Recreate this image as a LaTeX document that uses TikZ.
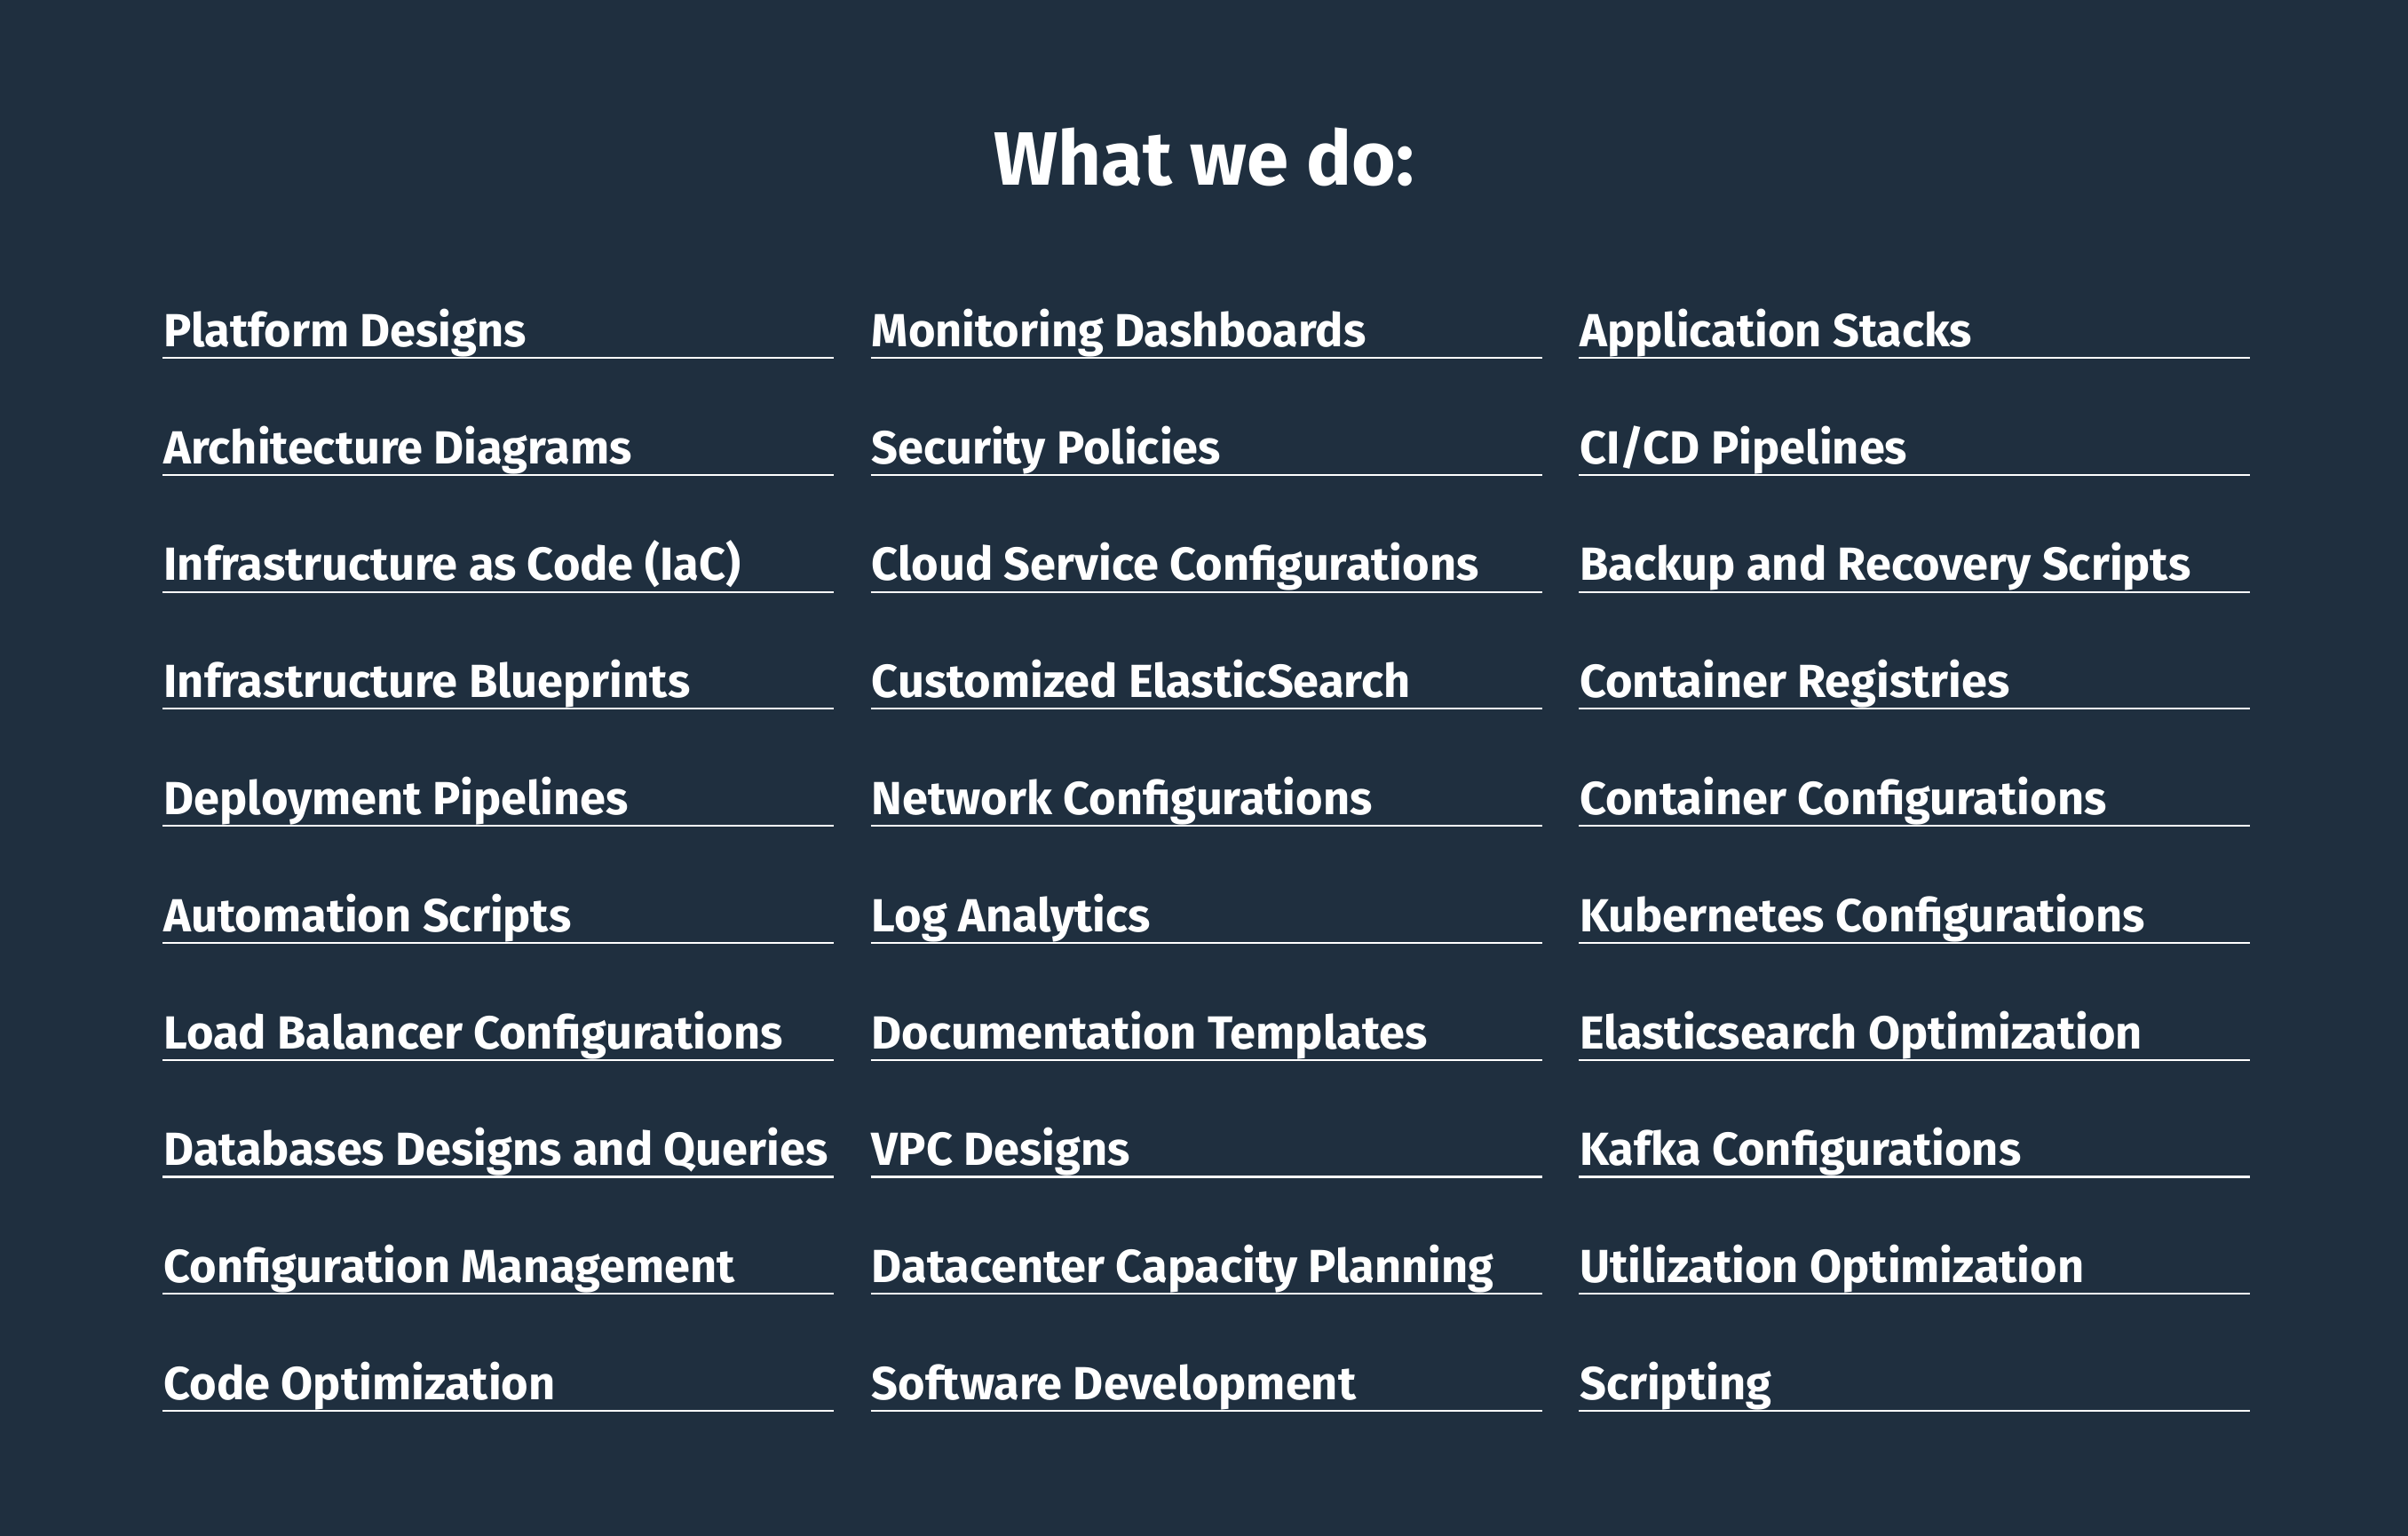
\documentclass[tikz,border=0pt]{standalone}
\usepackage{fontspec}
\setmainfont{Fira Sans}
\definecolor{bgnavy}{HTML}{1F2F3F}
\tikzset{
  item/.style={anchor=base west, inner sep=0pt, text=white, font=\fontsize{8.6}{10}\selectfont\bfseries},
  rule/.style={draw=white, line width=0.35pt}
}
\begin{document}
\begin{tikzpicture}[x=0.01cm, y=-0.01cm]
  \fill[bgnavy] (0,0) rectangle (1568,1000);
  \useasboundingbox (0,0) rectangle (1568,1000);
  \node[text=white, font=\fontsize{14}{16}\selectfont\bfseries] (title) at (784,102) {What we do:};
  % column 1
  \foreach \t [count=\i] in {Platform Designs, Architecture Diagrams, Infrastructure as Code (IaC), Infrastructure Blueprints, Deployment Pipelines, Automation Scripts, Load Balancer Configurations, Databases Designs and Queries, Configuration Management, Code Optimization}{
      \node[item] (a\i) at (106,149.5+76.2*\i) {\t};
      \draw[rule] (106,156.8+76.2*\i) -- ++(437,0);
    }
  % column 2
  \foreach \t [count=\i] in {Monitoring Dashboards, Security Policies, Cloud Service Configurations, Customized ElasticSearch, Network Configurations, Log Analytics, Documentation Templates, VPC Designs, Datacenter Capacity Planning, Software Development}{
      \node[item] (b\i) at (567,149.5+76.2*\i) {\t};
      \draw[rule] (567,156.8+76.2*\i) -- ++(437,0);
    }
  % column 3
  \foreach \t [count=\i] in {Application Stacks, CI/CD Pipelines, Backup and Recovery Scripts, Container Registries, Container Configurations, Kubernetes Configurations, Elasticsearch Optimization, Kafka Configurations, Utilization Optimization, Scripting}{
      \node[item] (c\i) at (1028,149.5+76.2*\i) {\t};
      \draw[rule] (1028,156.8+76.2*\i) -- ++(437,0);
    }
\end{tikzpicture}
\end{document}
